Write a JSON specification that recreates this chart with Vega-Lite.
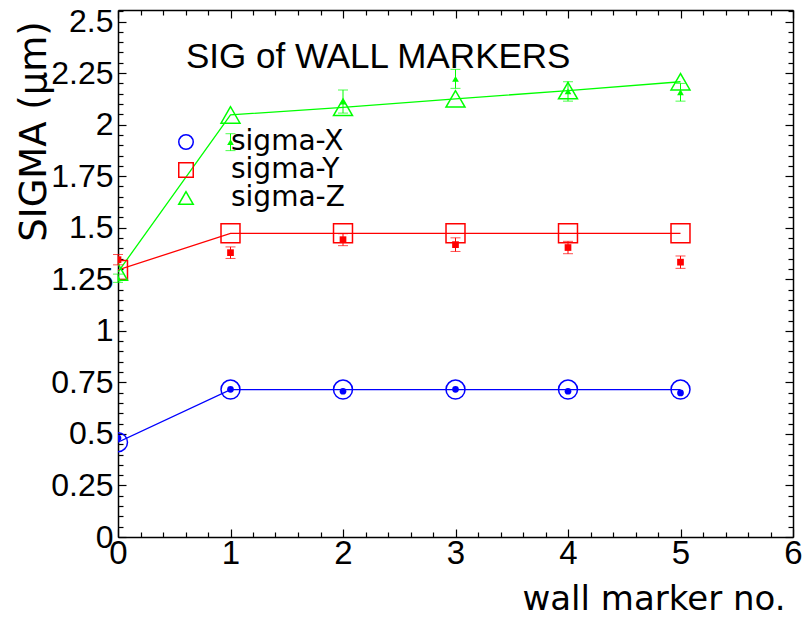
{
  "$schema": "https://vega.github.io/schema/vega-lite/v6.json",
  "width": 675,
  "height": 527,
  "autosize": {"type": "none"},
  "padding": {"left": 118, "top": 10, "right": 9, "bottom": 82},
  "background": "white",
  "title": {
    "text": "SIG of WALL MARKERS",
    "anchor": "start",
    "frame": "group",
    "orient": "top",
    "offset": -55,
    "dx": 68,
    "dy": 53,
    "baseline": "alphabetic",
    "font": "Liberation Sans",
    "fontSize": 35,
    "fontWeight": "normal",
    "color": "black"
  },
  "data": {
    "values": [
      {"series": "sigma-X", "marker": 0, "fit": 0.46, "meas": 0.48, "err": 0},
      {"series": "sigma-X", "marker": 1, "fit": 0.715, "meas": 0.716, "err": 0},
      {"series": "sigma-X", "marker": 2, "fit": 0.715, "meas": 0.707, "err": 0},
      {"series": "sigma-X", "marker": 3, "fit": 0.715, "meas": 0.716, "err": 0},
      {"series": "sigma-X", "marker": 4, "fit": 0.715, "meas": 0.707, "err": 0},
      {"series": "sigma-X", "marker": 5, "fit": 0.715, "meas": 0.699, "err": 0},
      {"series": "sigma-Y", "marker": 0, "fit": 1.295, "meas": 1.345, "err": 0.025},
      {"series": "sigma-Y", "marker": 1, "fit": 1.473, "meas": 1.379, "err": 0.028},
      {"series": "sigma-Y", "marker": 2, "fit": 1.473, "meas": 1.442, "err": 0.029},
      {"series": "sigma-Y", "marker": 3, "fit": 1.473, "meas": 1.418, "err": 0.033},
      {"series": "sigma-Y", "marker": 4, "fit": 1.473, "meas": 1.404, "err": 0.03},
      {"series": "sigma-Y", "marker": 5, "fit": 1.473, "meas": 1.333, "err": 0.03},
      {"series": "sigma-Z", "marker": 0, "fit": 1.285, "meas": 1.255, "err": 0.02},
      {"series": "sigma-Z", "marker": 1, "fit": 2.047, "meas": 1.915, "err": 0.041},
      {"series": "sigma-Z", "marker": 2, "fit": 2.084, "meas": 2.112, "err": 0.056},
      {"series": "sigma-Z", "marker": 3, "fit": 2.125, "meas": 2.222, "err": 0.046},
      {"series": "sigma-Z", "marker": 4, "fit": 2.165, "meas": 2.161, "err": 0.047},
      {"series": "sigma-Z", "marker": 5, "fit": 2.208, "meas": 2.157, "err": 0.043}
    ]
  },
  "config": {
    "view": {"stroke": null},
    "axis": {
      "grid": false,
      "domainColor": "black",
      "domainWidth": 1.5,
      "tickColor": "black",
      "tickWidth": 1.2,
      "labelColor": "black",
      "titleColor": "black",
      "labelOverlap": false,
      "labelFlush": false
    }
  },
  "resolve": {
    "axis": {"x": "independent", "y": "independent"},
    "legend": {"color": "independent", "shape": "independent"}
  },
  "layer": [
    {
      "mark": {"type": "line", "strokeWidth": 1.3, "clip": true},
      "encoding": {
        "x": {
          "field": "marker",
          "type": "quantitative",
          "scale": {"domain": [0, 6], "nice": false, "zero": false},
          "axis": {
            "orient": "bottom",
            "values": [0, 0.2, 0.4, 0.6, 0.8, 1, 1.2, 1.4, 1.6, 1.8, 2, 2.2, 2.4, 2.6, 2.8, 3, 3.2, 3.4, 3.6, 3.8, 4, 4.2, 4.4, 4.6, 4.8, 5, 5.2, 5.4, 5.6, 5.8, 6],
            "format": "~g",
            "labelExpr": "abs(datum.value - round(datum.value)) < 1e-6 ? datum.label : ''",
            "tickSize": {"condition": {"test": "abs(datum.value - round(datum.value)) < 1e-6", "value": -8}, "value": -5},
            "labelFont": "Liberation Sans",
            "labelFontSize": 33,
            "labelPadding": 8,
            "title": "wall marker no.",
            "titleFont": "DejaVu Sans",
            "titleFontSize": 34,
            "titleFontWeight": "normal",
            "titleX": 667,
            "titleY": 72,
            "titleAlign": "right",
            "titleBaseline": "alphabetic"
          }
        },
        "y": {
          "field": "fit",
          "type": "quantitative",
          "scale": {"domain": [0, 2.556], "nice": false, "zero": false},
          "axis": {
            "orient": "left",
            "values": [0, 0.05, 0.1, 0.15, 0.2, 0.25, 0.3, 0.35, 0.4, 0.45, 0.5, 0.55, 0.6, 0.65, 0.7, 0.75, 0.8, 0.85, 0.9, 0.95, 1, 1.05, 1.1, 1.15, 1.2, 1.25, 1.3, 1.35, 1.4, 1.45, 1.5, 1.55, 1.6, 1.65, 1.7, 1.75, 1.8, 1.85, 1.9, 1.95, 2, 2.05, 2.1, 2.15, 2.2, 2.25, 2.3, 2.35, 2.4, 2.45, 2.5, 2.55],
            "format": "~g",
            "labelExpr": "abs(datum.value * 4 - round(datum.value * 4)) < 1e-6 ? datum.label : ''",
            "tickSize": {"condition": {"test": "abs(datum.value * 4 - round(datum.value * 4)) < 1e-6", "value": -8}, "value": -5},
            "labelFont": "Liberation Sans",
            "labelFontSize": 32,
            "labelPadding": 13,
            "title": "SIGMA (μm)",
            "titleFont": "DejaVu Sans",
            "titleFontSize": 37,
            "titleFontWeight": "normal",
            "titleAngle": -90,
            "titleX": -73,
            "titleY": 121,
            "titleAlign": "center",
            "titleBaseline": "alphabetic"
          }
        },
        "color": {
          "field": "series",
          "type": "nominal",
          "scale": {"domain": ["sigma-X", "sigma-Y", "sigma-Z"], "range": ["#0000ff", "#ff0000", "#00ff00"]},
          "legend": null
        }
      }
    },
    {
      "mark": {"type": "point", "filled": false, "strokeWidth": 1.5, "size": 360, "opacity": 1, "clip": true},
      "encoding": {
        "x": {
          "field": "marker",
          "type": "quantitative",
          "axis": {
            "orient": "top",
            "values": [0, 0.2, 0.4, 0.6, 0.8, 1, 1.2, 1.4, 1.6, 1.8, 2, 2.2, 2.4, 2.6, 2.8, 3, 3.2, 3.4, 3.6, 3.8, 4, 4.2, 4.4, 4.6, 4.8, 5, 5.2, 5.4, 5.6, 5.8, 6],
            "labels": false,
            "title": null,
            "tickSize": {"condition": {"test": "abs(datum.value - round(datum.value)) < 1e-6", "value": -8}, "value": -5}
          }
        },
        "y": {
          "field": "fit",
          "type": "quantitative",
          "axis": {
            "orient": "right",
            "values": [0, 0.05, 0.1, 0.15, 0.2, 0.25, 0.3, 0.35, 0.4, 0.45, 0.5, 0.55, 0.6, 0.65, 0.7, 0.75, 0.8, 0.85, 0.9, 0.95, 1, 1.05, 1.1, 1.15, 1.2, 1.25, 1.3, 1.35, 1.4, 1.45, 1.5, 1.55, 1.6, 1.65, 1.7, 1.75, 1.8, 1.85, 1.9, 1.95, 2, 2.05, 2.1, 2.15, 2.2, 2.25, 2.3, 2.35, 2.4, 2.45, 2.5, 2.55],
            "labels": false,
            "title": null,
            "tickSize": {"condition": {"test": "abs(datum.value * 4 - round(datum.value * 4)) < 1e-6", "value": -8}, "value": -5}
          }
        },
        "color": {
          "field": "series",
          "type": "nominal",
          "legend": {
            "orient": "none",
            "legendX": 54,
            "legendY": 118,
            "title": null,
            "labelFont": "DejaVu Sans",
            "labelFontSize": 28,
            "labelColor": "black",
            "labelOffset": 31,
            "symbolSize": 210,
            "symbolStrokeWidth": 1.5,
            "rowPadding": -5,
            "padding": 0
          }
        },
        "shape": {
          "field": "series",
          "type": "nominal",
          "scale": {"domain": ["sigma-X", "sigma-Y", "sigma-Z"], "range": ["circle", "square", "triangle-up"]},
          "legend": {
            "orient": "none",
            "legendX": 54,
            "legendY": 118,
            "title": null,
            "labelFont": "DejaVu Sans",
            "labelFontSize": 28,
            "labelColor": "black",
            "labelOffset": 31,
            "symbolSize": 210,
            "symbolStrokeWidth": 1.5,
            "rowPadding": -5,
            "padding": 0
          }
        }
      }
    },
    {
      "transform": [{"filter": "datum.err > 0"}],
      "mark": {"type": "errorbar", "ticks": {"size": 10}, "thickness": 1},
      "encoding": {
        "x": {"field": "marker", "type": "quantitative", "axis": null},
        "y": {"field": "meas", "type": "quantitative", "axis": null},
        "yError": {"field": "err"},
        "color": {"field": "series", "type": "nominal", "legend": null}
      }
    },
    {
      "mark": {"type": "point", "filled": true, "size": 45, "opacity": 1, "clip": true},
      "encoding": {
        "x": {"field": "marker", "type": "quantitative", "axis": null},
        "y": {"field": "meas", "type": "quantitative", "axis": null},
        "color": {"field": "series", "type": "nominal", "legend": null},
        "shape": {"field": "series", "type": "nominal", "legend": null}
      }
    }
  ]
}
